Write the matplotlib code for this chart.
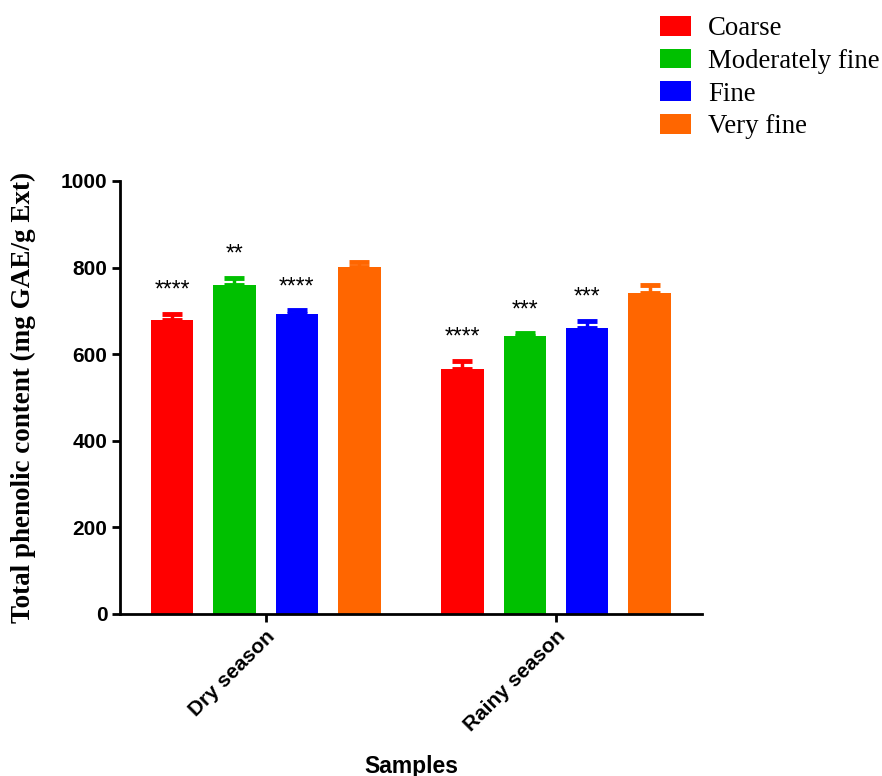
import numpy as np
import matplotlib
matplotlib.use("Agg")
import matplotlib.pyplot as plt
from matplotlib.patches import Patch

# ─── data ─────────────────────────────────────
seasons = ["Dry season", "Rainy season"]
sizes = ["Coarse", "Moderately fine", "Fine", "Very fine"]
colors = ["#FF0000", "#00C000", "#0000FF", "#FF6600"]

means = {
    "Coarse":          [680, 565],
    "Moderately fine": [760, 642],
    "Fine":            [693, 660],
    "Very fine":       [801, 741],
}
errs = {
    "Coarse":          [12, 20],
    "Moderately fine": [16, 6],
    "Fine":            [8, 16],
    "Very fine":       [13, 18],
}
stars = {
    "Coarse":          ["****", "****"],
    "Moderately fine": ["**", "***"],
    "Fine":            ["****", "***"],
    "Very fine":       ["", ""],
}

SANS = ["Liberation Sans", "DejaVu Sans"]
SERIF = ["Liberation Serif", "DejaVu Serif"]

fig = plt.figure(figsize=(8.82, 7.76), dpi=100)
ax = fig.add_axes([0.136, 0.2088, 0.660, 0.558])

group_gap = 4.65
width = 0.68
for i, s in enumerate(sizes):
    xs = np.arange(len(seasons)) * group_gap + i
    ax.bar(xs, means[s], width=width, color=colors[i], zorder=2)
    ax.errorbar(xs, means[s], yerr=[np.zeros(len(xs)), errs[s]], fmt="none",
                ecolor=colors[i], elinewidth=2.5, capsize=7, capthick=3.5, zorder=1)
    for x, m, e, t in zip(xs, means[s], errs[s], stars[s]):
        if t:
            ax.text(x, m + e + 55, t, ha="center", va="center",
                    fontsize=16.5, family=SANS)

ax.set_xlim(-0.833, 8.49)
ax.set_ylim(0, 1000)
ax.set_yticks(np.arange(0, 1001, 200))
centers = np.arange(len(seasons)) * group_gap + 1.5
ax.set_xticks(centers)
ax.set_xticklabels(seasons, rotation=45, ha="right", rotation_mode="anchor",
                   fontsize=15, fontweight="bold", family=SANS)
for lab in ax.get_yticklabels():
    lab.set_fontsize(15)
    lab.set_fontweight("bold")
    lab.set_family(SANS)

for side in ["top", "right"]:
    ax.spines[side].set_visible(False)
for side in ["left", "bottom"]:
    ax.spines[side].set_linewidth(2)
ax.tick_params(axis="both", direction="out", length=6, width=2, pad=3)

ax.set_ylabel("Total phenolic content (mg GAE/g Ext)", fontsize=19.5,
              fontweight="bold", family=SERIF, labelpad=18)
ax.set_xlabel("Samples", fontsize=16.5, fontweight="bold", family=SANS, labelpad=14)

handles = [Patch(facecolor=c, edgecolor="none") for c in colors]
fig.legend(handles, sizes, loc="upper left", bbox_to_anchor=(660 / 882, 1 - 16 / 776),
           frameon=False, prop={"family": SERIF, "size": 19.3},
           borderpad=0, borderaxespad=0,
           handlelength=1.16, handleheight=0.75, handletextpad=0.63, labelspacing=0.28)

fig.savefig("out.png", dpi=100)
